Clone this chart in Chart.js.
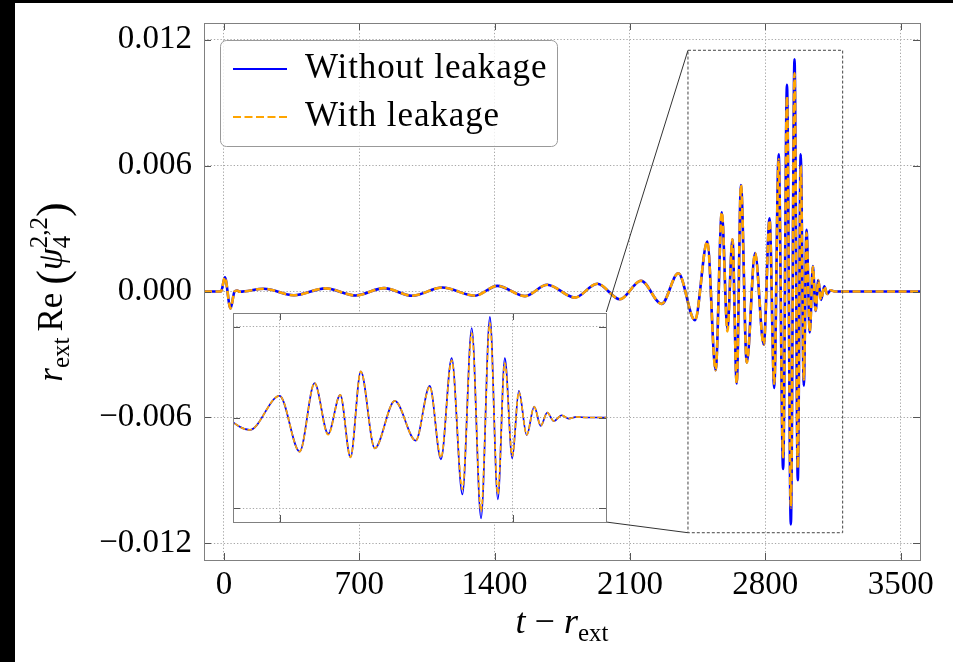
<!DOCTYPE html>
<html>
<head>
<meta charset="utf-8">
<script src="https://cdn.jsdelivr.net/npm/chart.js@4/dist/chart.umd.min.js"></script>
<style>
  html, body { margin: 0; padding: 0; background: #000; }
  #wrap { position: absolute; left: 15px; top: 3px; width: 938px; height: 659px; background: #fff; }
  #main { position: absolute; left: 0; top: 0; }
  #inset { position: absolute; left: 217px; top: 309px; }
</style>
</head>
<body>
<div id="wrap">
  <canvas id="main" width="938" height="659"></canvas>
  <canvas id="inset" width="375" height="211"></canvas>
</div>
<script>
// t - r_ext at each extremum of the waveform
const times = [-103, -15, 5, 34, 55, 68, 82, 207, 362, 526, 681, 828, 974, 1129, 1298, 1414, 1557,
  1672, 1815, 1931, 2048, 2157, 2264, 2350, 2436, 2500, 2543, 2575, 2604, 2630, 2652, 2674, 2704,
  2747, 2792, 2822, 2846, 2869, 2892, 2912, 2932, 2951, 2968, 2983, 2999, 3013, 3030, 3046, 3060,
  3074, 3088, 3105, 3120, 3137, 3160, 3600];
const withoutLeakage = [0, 0, 0.00068, -0.00081, 0, 0.00005, -0.00001, 0.00013, -0.00018, 0.00015,
  -0.00019, 0.00016, -0.0002, 0.00019, -0.0002, 0.00027, -0.00022, 0.00032, -0.00029, 0.00037,
  -0.00037, 0.00051, -0.00059, 0.00087, -0.00137, 0.00238, -0.00375, 0.00378, -0.0018, 0.00249,
  -0.00438, 0.00507, -0.00339, 0.00183, -0.00254, 0.00349, -0.0046, 0.00654, -0.00846, 0.00985,
  -0.0111, 0.01107, -0.009, 0.00654, -0.00449, 0.00294, -0.00195, 0.00121, -0.00093, 0.00055,
  -0.0004, 0.00025, -0.00012, 0.00006, 0, 0];
const withLeakage = [0, 0, 0.00068, -0.00081, 0, 0.00005, -0.00001, 0.00013, -0.00018, 0.00015,
  -0.00019, 0.00016, -0.0002, 0.00019, -0.0002, 0.00027, -0.00022, 0.00032, -0.00029, 0.00037,
  -0.00037, 0.00051, -0.00059, 0.00087, -0.00137, 0.00238, -0.00375, 0.00378, -0.0019, 0.00249,
  -0.00438, 0.00507, -0.00339, 0.00183, -0.00254, 0.0034, -0.0044, 0.0063, -0.0079, 0.0093,
  -0.0103, 0.0104, -0.0084, 0.006, -0.0042, 0.0028, -0.0019, 0.00118, -0.0009, 0.00053,
  -0.00039, 0.00024, -0.00012, 0.00006, 0, 0];

const seriesLabels = ['Without leakage', 'With leakage'];
const xTicks = [0, 700, 1400, 2100, 2800, 3500];
const xTickLabels = ['0', '700', '1400', '2100', '2800', '3500'];
const yTicks = [-0.012, -0.006, 0, 0.006, 0.012];
const yTickLabels = ['\u22120.012', '\u22120.006', '0.000', '0.006', '0.012'];
const zoomX = [2400, 3200];
const zoomY = [-0.0115, 0.0115];
const insetXTicks = [2500, 3000];
const insetYTicks = [-0.01, 0, 0.01];

const SERIF = '"Liberation Serif", "Times New Roman", serif';
Chart.defaults.font.family = SERIF;
Chart.defaults.color = '#000';

function points(vals) {
  return times.map((t, i) => ({ x: t, y: vals[i] }));
}

// inset box in #main canvas coords (page - (15,3))
const insetBox = { left: 218, top: 310, right: 591, bottom: 519 };

function gridOpts() {
  return { color: '#a8a8a8', lineWidth: 1, drawTicks: false };
}

function noPad(s) {
  s.paddingTop = 0; s.paddingBottom = 0; s.paddingLeft = 0; s.paddingRight = 0;
}

function frameAndTicks(chart, xt, yt, len) {
  const ctx = chart.ctx, a = chart.chartArea;
  const sx = chart.scales.x, sy = chart.scales.y;
  ctx.save();
  ctx.strokeStyle = '#555';
  ctx.lineWidth = 1;
  ctx.beginPath();
  xt.forEach(v => {
    const px = Math.round(sx.getPixelForValue(v)) + 0.5;
    ctx.moveTo(px, a.bottom); ctx.lineTo(px, a.bottom - len);
    ctx.moveTo(px, a.top); ctx.lineTo(px, a.top + len);
  });
  yt.forEach(v => {
    const py = Math.round(sy.getPixelForValue(v)) + 0.5;
    ctx.moveTo(a.left, py); ctx.lineTo(a.left + len, py);
    ctx.moveTo(a.right, py); ctx.lineTo(a.right - len, py);
  });
  ctx.stroke();
  ctx.strokeStyle = '#808080';
  ctx.strokeRect(Math.round(a.left) + 0.5, Math.round(a.top) + 0.5,
    Math.round(a.right - a.left), Math.round(a.bottom - a.top));
  ctx.restore();
}

// draws a row of text runs; stacked runs hold sup/sub together
function drawRuns(ctx, runs, cx, base) {
  const widthOf = r => {
    if (r.gap) return r.gap;
    ctx.font = r.f;
    if (r.stack) return Math.max(...r.stack.map(s => ctx.measureText(s.t).width));
    return ctx.measureText(r.t).width;
  };
  const total = runs.reduce((s, r) => s + widthOf(r), 0);
  let x = cx - total / 2;
  ctx.textBaseline = 'alphabetic';
  ctx.textAlign = 'left';
  ctx.fillStyle = '#000';
  runs.forEach(r => {
    const w = widthOf(r);
    if (!r.gap) {
      ctx.font = r.f;
      if (r.stack) r.stack.forEach(s => ctx.fillText(s.t, x, base + s.dy));
      else ctx.fillText(r.t, x, base + (r.dy || 0));
    }
    x += w;
  });
}

const mainDecor = {
  id: 'mainDecor',
  afterDraw(chart) {
    const ctx = chart.ctx;
    const sx = chart.scales.x, sy = chart.scales.y;
    frameAndTicks(chart, xTicks, yTicks, 7);

    // zoom rectangle and connectors
    const x0 = sx.getPixelForValue(zoomX[0]), x1 = sx.getPixelForValue(zoomX[1]);
    const y0 = sy.getPixelForValue(zoomY[1]), y1 = sy.getPixelForValue(zoomY[0]);
    ctx.save();
    ctx.strokeStyle = '#444';
    ctx.lineWidth = 1;
    ctx.setLineDash([3, 2]);
    ctx.strokeRect(x0, y0, x1 - x0, y1 - y0);
    ctx.setLineDash([]);
    ctx.strokeStyle = '#333';
    ctx.beginPath();
    ctx.moveTo(x0, y0); ctx.lineTo(insetBox.right, insetBox.top);
    ctx.moveTo(x0, y1); ctx.lineTo(insetBox.right, insetBox.bottom);
    ctx.stroke();
    ctx.restore();

    // legend
    ctx.save();
    const lx = 205.5, ly = 37.5, lw = 337, lh = 106, r = 6;
    ctx.beginPath();
    ctx.roundRect(lx, ly, lw, lh, r);
    ctx.fillStyle = 'rgba(255,255,255,0.8)';
    ctx.fill();
    ctx.strokeStyle = '#999';
    ctx.lineWidth = 1;
    ctx.stroke();
    const ds = chart.data.datasets;
    [66, 114].forEach((y, i) => {
      const d = ds.find(s => s.label === seriesLabels[i]);
      ctx.strokeStyle = d.borderColor;
      ctx.lineWidth = 2;
      ctx.setLineDash(d.borderDash || []);
      ctx.beginPath();
      ctx.moveTo(218, y); ctx.lineTo(272, y);
      ctx.stroke();
      ctx.setLineDash([]);
      ctx.fillStyle = '#000';
      ctx.font = '35px ' + SERIF;
      ctx.letterSpacing = '0.9px';
      ctx.textBaseline = 'alphabetic';
      ctx.fillText(seriesLabels[i], 290, y + 9);
    });
    ctx.restore();

    // axis titles
    ctx.save();
    drawRuns(ctx, [
      { t: 't', f: 'italic 36px ' + SERIF },
      { gap: 9 },
      { t: '\u2212', f: '36px ' + SERIF },
      { gap: 9 },
      { t: 'r', f: 'italic 36px ' + SERIF },
      { t: 'ext', f: '25px ' + SERIF, dy: 8 }
    ], 547, 630);
    ctx.translate(47, 289);
    ctx.rotate(-Math.PI / 2);
    drawRuns(ctx, [
      { t: 'r', f: 'italic 35px ' + SERIF },
      { t: 'ext', f: '25px ' + SERIF, dy: 7 },
      { gap: 6 },
      { t: 'Re', f: '35px ' + SERIF },
      { gap: 8 },
      { t: '(', f: '44px ' + SERIF, dy: 5 },
      { t: '\u03c8', f: 'italic 35px ' + SERIF },
      { f: '25px ' + SERIF, stack: [{ t: '2,2', dy: -15 }, { t: '4', dy: 8 }] },
      { t: ')', f: '44px ' + SERIF, dy: 5 }
    ], 0, 0);
    ctx.restore();
  }
};

const insetDecor = {
  id: 'insetDecor',
  beforeDraw(chart) {
    const ctx = chart.ctx;
    ctx.save();
    ctx.fillStyle = '#fff';
    ctx.fillRect(0, 0, chart.width, chart.height);
    ctx.restore();
  },
  afterDraw(chart) {
    frameAndTicks(chart, insetXTicks, insetYTicks, 7);
  }
};

function datasets(lw, dash) {
  return [
    { label: seriesLabels[0], data: points(withoutLeakage), borderColor: '#0000ff',
      borderWidth: lw, order: 1 },
    { label: seriesLabels[1], data: points(withLeakage), borderColor: '#ffa500',
      borderWidth: lw, borderDash: dash, order: 0 }
  ];
}

const common = {
  responsive: false,
  animation: false,
  events: [],
  elements: { point: { radius: 0 }, line: { cubicInterpolationMode: 'monotone', fill: false } },
  plugins: { legend: { display: false }, tooltip: { enabled: false } }
};

new Chart(document.getElementById('main'), {
  type: 'line',
  data: { datasets: datasets(2.6, [8, 3.5]) },
  options: Object.assign({}, common, {
    layout: { padding: { left: 0, right: 33, top: 20, bottom: 0 } },
    scales: {
      x: {
        type: 'linear', min: -103, max: 3600,
        afterBuildTicks: s => { s.ticks = xTicks.map(v => ({ value: v })); },
        afterFit: s => { s.height = 102; noPad(s); },
        grid: gridOpts(),
        border: { display: false, dash: [1.3, 2] },
        ticks: { autoSkip: false, maxRotation: 0, padding: 6, font: { size: 33 },
          callback: v => xTickLabels[xTicks.indexOf(v)] }
      },
      y: {
        type: 'linear', min: -0.0128, max: 0.0128,
        afterBuildTicks: s => { s.ticks = yTicks.map(v => ({ value: v })); },
        afterFit: s => { s.width = 189; noPad(s); },
        grid: gridOpts(),
        border: { display: false, dash: [1.3, 2] },
        ticks: { padding: 12, font: { size: 33 },
          callback: v => yTickLabels[yTicks.indexOf(v)] }
      }
    }
  }),
  plugins: [mainDecor]
});

new Chart(document.getElementById('inset'), {
  type: 'line',
  data: { datasets: datasets(1.7, [5, 2.2]) },
  options: Object.assign({}, common, {
    layout: { padding: 1 },
    scales: {
      x: {
        type: 'linear', min: zoomX[0], max: zoomX[1],
        afterBuildTicks: s => { s.ticks = insetXTicks.map(v => ({ value: v })); },
        afterFit: s => { s.height = 0; noPad(s); },
        grid: gridOpts(),
        border: { display: false, dash: [1.3, 2] },
        ticks: { display: false }
      },
      y: {
        type: 'linear', min: zoomY[0], max: zoomY[1],
        afterBuildTicks: s => { s.ticks = insetYTicks.map(v => ({ value: v })); },
        afterFit: s => { s.width = 0; noPad(s); },
        grid: gridOpts(),
        border: { display: false, dash: [1.3, 2] },
        ticks: { display: false }
      }
    }
  }),
  plugins: [insetDecor]
});
</script>
</body>
</html>
